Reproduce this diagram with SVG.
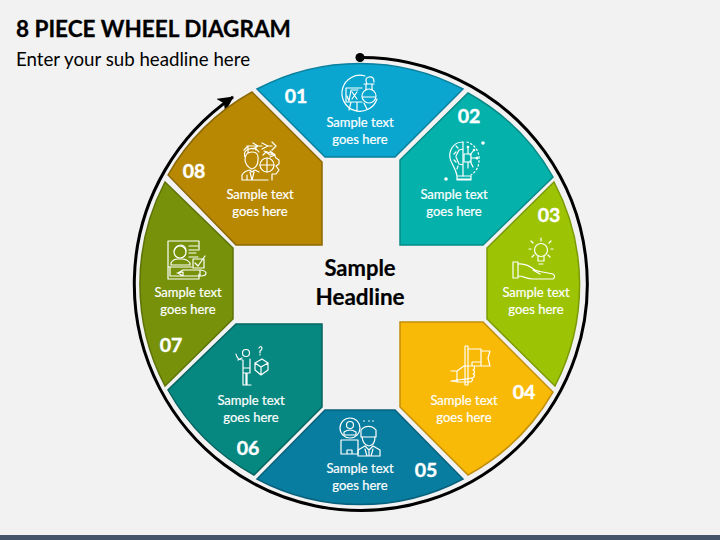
<svg xmlns="http://www.w3.org/2000/svg" width="720" height="540" viewBox="0 0 720 540">
<style>
text{font-family:"Lato","Open Sans","Liberation Sans",sans-serif}
.seg{stroke-width:1.5;stroke-linejoin:miter}
.lbl{font-size:13px;fill:#fff;stroke:#fff;stroke-width:.2;text-anchor:middle}
.num{font-size:19.500px;font-weight:700;fill:#fff;stroke:#fff;stroke-width:.4;text-anchor:middle}
.ic{fill:none;stroke:#fff;stroke-width:1.2;stroke-linejoin:round;stroke-linecap:round}
.dot{fill:#fff;stroke:none}
</style>
<defs>
<marker id="ah" markerUnits="userSpaceOnUse" markerWidth="20" markerHeight="20" refX="15" refY="8" orient="auto"><path d="M0 0L16 8L0 16L4 8Z" fill="#000"/></marker>
</defs>
<rect width="720" height="540" fill="#f2f2f2"/>
<rect y="535" width="720" height="5" fill="#44546a"/>
<text x="16" y="37" font-size="22.500" font-weight="700" fill="#000" stroke="#000" stroke-width=".3">8 PIECE WHEEL DIAGRAM</text>
<text x="16" y="66" font-size="18.700" fill="#000">Enter your sub headline here</text>
<g id="connectors">
<path d="M360 57.500A226.500 226.500 0 1 1 233 97" fill="none" stroke="#000" stroke-width="3" marker-end="url(#ah)"/>
<circle cx="360" cy="57.500" r="4.500" fill="#000"/>
</g>
<g id="node-01">
<path class="seg" d="M257 89A220 220 0 0 1 463 89L395 157H325Z" fill="#0ba6cf" stroke="#0a7f9e"/>
<text class="num" x="296" y="103">01</text>
<g class="ic"><path d="M365 76A18 18 0 1 0 377 99"/><path d="M346 102H362M346 102V88H362M351 102L349 110M357 102V111M364 103L367 109"/><path d="M347 96L349 101L351 90H358M352 92L357 99M357 92L352 99"/><circle cx="369" cy="96" r="7"/><path d="M366 90V84M372 90V84M364 84H374M367 84Q364 78 369 77Q374 76 374 82M363 97H375"/></g>
<text class="lbl" x="360" y="127">Sample text</text><text class="lbl" x="360" y="144">goes here</text>
</g>
<g id="node-02">
<path class="seg" d="M468 93A220 220 0 0 1 553 177L483 245H400V160Z" fill="#04b2ab" stroke="#078a87"/>
<text class="num" x="469" y="123">02</text>
<g class="ic"><path d="M463 142C452 142 449 152 450 158C451 164 456 168 457 176H471M457 176V180H471V176M457 179H471"/><path d="M463 142V176M456 156L459 150L463 149M456 157L459 164L463 165M456 152L454 154M454 160L456 162M458 148L456 146M458 166L457 169"/><rect x="464" y="154" width="7" height="8"/><path d="M471 158H477M468 154V148M468 162V168M470 155L474 150M470 161L473 167"/><path d="M467 142A17 17 0 0 1 479 160A17 17 0 0 1 471 175" stroke-dasharray="1.500 2.500"/></g>
<circle class="dot" cx="483" cy="143" r="1.800"/><circle class="dot" cx="446" cy="179" r="1.800"/><circle class="dot" cx="477" cy="158" r="1.500"/><circle class="dot" cx="474" cy="150" r="1.300"/><circle class="dot" cx="468" cy="147" r="1.300"/>
<text class="lbl" x="454" y="199">Sample text</text><text class="lbl" x="454" y="216">goes here</text>
</g>
<g id="node-03">
<path class="seg" d="M554 182A220 220 0 0 1 555 386L487 319V248Z" fill="#9dc404" stroke="#7a9a06"/>
<text class="num" x="549" y="222">03</text>
<g class="ic"><circle cx="541" cy="250" r="6.500"/><path d="M538 256V261H544V256M539 264H543M541 238V241M531 241L533 243M551 241L549 243M529 249H531M551 249H553M532 257L534 255M550 257L548 255"/><path d="M513 262V278H518V262ZM518 264C525 263 530 266 535 270C539 272 545 272 553 274C555 275 555 278 553 279H533C527 279 523 276 518 276M533 270L540 274"/></g>
<text class="lbl" x="536" y="297">Sample text</text><text class="lbl" x="536" y="314">goes here</text>
</g>
<g id="node-04">
<path class="seg" d="M400 322H483L553 392A220 220 0 0 1 468 475L400 407Z" fill="#f8b907" stroke="#c18f0a"/>
<text class="num" x="524" y="399">04</text>
<g class="ic"><path d="M465 346V385H468V346ZM468 349H481V366H468M481 351H490L488 358L490 366H481M472 366V362H481M451 371H457L464 366H473C475 366 475 369 473 370M473 370C475 370 475 374 473 374M473 374C475 374 475 378 472 378M472 378C473 380 472 382 470 382H458L451 381ZM457 371V381"/></g>
<text class="lbl" x="464" y="405">Sample text</text><text class="lbl" x="464" y="422">goes here</text>
</g>
<g id="node-05">
<path class="seg" d="M257 479L325 410H395L463 479A220 220 0 0 1 257 479Z" fill="#087d9f" stroke="#08617c"/>
<text class="num" x="426" y="477">05</text>
<g class="ic"><circle cx="350" cy="428" r="10"/><circle cx="350" cy="425" r="3.500"/><path d="M344 435V432Q350 428 356 432V435ZM341 440H358V454H341ZM347 454V450H352V454"/><path d="M361 430A9.500 9.500 0 0 1 376 430V437H361Z"/><path d="M362 437Q363 445 369 446Q375 445 375 437M358 456V450L365 446L369 450L373 446L380 450V456ZM365 449L367 456M373 449L371 456M369 450V456"/></g>
<circle class="dot" cx="364" cy="421" r=".8"/><circle class="dot" cx="369" cy="421" r=".8"/><circle class="dot" cx="373" cy="421" r=".8"/>
<text class="lbl" x="360" y="473">Sample text</text><text class="lbl" x="360" y="490">goes here</text>
</g>
<g id="node-06">
<path class="seg" d="M322 324V407L254 475A220 220 0 0 1 168 390L236 324Z" fill="#068881" stroke="#056460"/>
<text class="num" x="248" y="455">06</text>
<g class="ic"><circle cx="246" cy="353" r="3.500"/><path d="M236 354Q237 360 243 360V373H250V359M243 373V385H246V373M247 373V385H251M242 358L238 360M243 368H250"/><path d="M255 363L262 359L268 363V370L261 375L255 370ZM255 363L261 367L268 363M261 367V375M259 348Q261 345 262 348Q262 350 260 351V353M260 354.500V355"/></g>
<text class="lbl" x="251" y="405">Sample text</text><text class="lbl" x="251" y="422">goes here</text>
</g>
<g id="node-07">
<path class="seg" d="M165 182L233 248V319L165 386A220 220 0 0 1 165 182Z" fill="#77920a" stroke="#5e7208"/>
<text class="num" x="171" y="352">07</text>
<g class="ic"><path d="M199 250V241H168V279H199V274M168 267H192"/><circle cx="180" cy="252" r="6"/><path d="M174 251Q176 245 181 245Q186 246 186 251M171 265V263Q173 259 178 259H182Q187 259 190 263V265ZM189 246H198M189 250H198M189 253H196M189 257H198"/><path d="M193 259H204V268H193ZM195 263L198 266L205 256M170 267V276H183V272M183 272L177 273M183 270H201Q206 271 206 273Q206 276 201 276H183L178 273ZM200 270V276"/></g>
<text class="lbl" x="188" y="297">Sample text</text><text class="lbl" x="188" y="314">goes here</text>
</g>
<g id="node-08">
<path class="seg" d="M252 92L322 162V245H236L168 175A220 220 0 0 1 252 92Z" fill="#b88802" stroke="#8c6802"/>
<text class="num" x="194" y="178">08</text>
<g class="ic"><path d="M245 160Q245 152 252 152Q259 152 258 160Q258 167 252 169Q246 167 245 160ZM242 180V175Q244 171 250 170L252 172L255 170L259 172M242 180H268M250 172L252 180L254 172M247 175V180M245 157Q243 151 249 149Q256 147 259 152"/><path d="M244 150L248 146V153M247 146H262M256 146V150M253 143L258 146L253 149M262 143L268 146L262 149M268 146H272M272 142L276 146L272 150M264 151L274 154M270 151L275 155L270 157"/><circle cx="267" cy="165" r="7"/><path d="M267 158V172M260 165H274"/><path d="M263 155L266 152L270 155L274 154L276 158L279 160V164L276 166L279 170L276 174L272 174V180"/></g>
<text class="lbl" x="260" y="199">Sample text</text><text class="lbl" x="260" y="216">goes here</text>
</g>
<g id="center">
<text x="360" y="276" font-size="22" font-weight="700" fill="#000" stroke="#000" stroke-width=".2" text-anchor="middle">Sample</text>
<text x="360" y="305" font-size="22.500" font-weight="700" fill="#000" stroke="#000" stroke-width=".2" text-anchor="middle">Headline</text>
</g>
</svg>
